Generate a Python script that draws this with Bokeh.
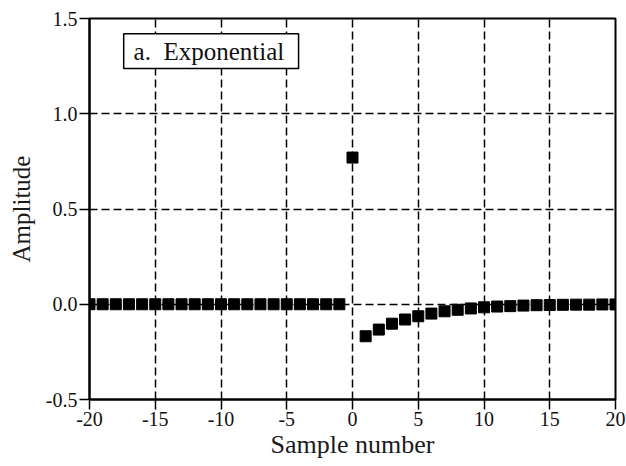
from bokeh.plotting import figure
from bokeh.models import Range1d, FixedTicker, BoxAnnotation, Label
from bokeh.embed import file_html
from bokeh.resources import INLINE

# ---- data ----
sample_number = list(range(-20, 21))
amplitude = [0.0] * 20 + [
    0.77,
    -0.168, -0.133, -0.102, -0.080, -0.063, -0.049, -0.037, -0.029, -0.022, -0.016,
    -0.012, -0.010, -0.007, -0.005, -0.004, -0.003, -0.002, -0.002, -0.001, -0.001,
]
x_ticks = [-20, -15, -10, -5, 0, 5, 10, 15, 20]
x_tick_labels = ["-20", "-15", "-10", "-5", "0", "5", "10", "15", "20"]
y_ticks = [-0.5, 0.0, 0.5, 1.0, 1.5]
y_tick_labels = ["-0.5", "0.0", "0.5", "1.0", "1.5"]
title_text = "a.\u00a0 Exponential"
x_label = "Sample number"
y_label = "Amplitude"

FONT = "Liberation Serif"

p = figure(width=626, height=466, output_backend="svg", toolbar_location=None,
           x_range=Range1d(-20, 20), y_range=Range1d(-0.5, 1.5),
           min_border_left=89, min_border_right=11, min_border_top=18,
           min_border_bottom=67)
p.background_fill_color = "white"
p.border_fill_color = "white"
p.outline_line_color = "black"
p.outline_line_width = 2

# grid
for g in (p.xgrid, p.ygrid):
    g.grid_line_color = "black"
    g.grid_line_width = 1.5
    g.grid_line_dash = "8 4"
p.xgrid.ticker = FixedTicker(ticks=x_ticks)
p.ygrid.ticker = FixedTicker(ticks=y_ticks)

# axes
p.xaxis.ticker = FixedTicker(ticks=x_ticks)
p.yaxis.ticker = FixedTicker(ticks=y_ticks)
p.xaxis.major_label_overrides = {t: l for t, l in zip(x_ticks, x_tick_labels)}
p.yaxis.major_label_overrides = {t: l for t, l in zip(y_ticks, y_tick_labels)}
for ax in (p.xaxis, p.yaxis):
    ax.axis_line_color = "black"
    ax.axis_line_width = 2
    ax.major_tick_line_color = "black"
    ax.major_tick_line_width = 1.5
    ax.major_tick_out = 10
    ax.major_tick_in = 0
    ax.minor_tick_line_color = None
    ax.major_label_text_font = FONT
    ax.major_label_text_font_size = "20px"
    ax.major_label_text_color = "#111111"
    ax.axis_label_text_font = FONT
    ax.axis_label_text_font_style = "normal"
    ax.axis_label_text_color = "#1a1a1a"
    ax.major_label_standoff = 2
p.xaxis.axis_label = x_label
p.yaxis.axis_label = y_label
p.xaxis.axis_label_text_font_size = "26px"
p.yaxis.axis_label_text_font_size = "25px"
p.xaxis.axis_label_standoff = 1
p.yaxis.axis_label_standoff = 8

# data points
p.scatter(sample_number, amplitude, marker="square", size=11,
          fill_color="black", line_color="black")

# title box
box = BoxAnnotation(left=-17.4, right=-4.1, top=1.42, bottom=1.237,
                    fill_color="white", fill_alpha=1.0,
                    line_color="black", line_alpha=1.0, line_width=1.5)
p.add_layout(box)
lab = Label(x=-16.65, y=1.3285, text=title_text, text_font=FONT,
            text_font_size="25px", text_baseline="middle", text_align="left",
            text_color="#111111")
p.add_layout(lab)

open("out.html", "w").write(file_html(p, INLINE))
